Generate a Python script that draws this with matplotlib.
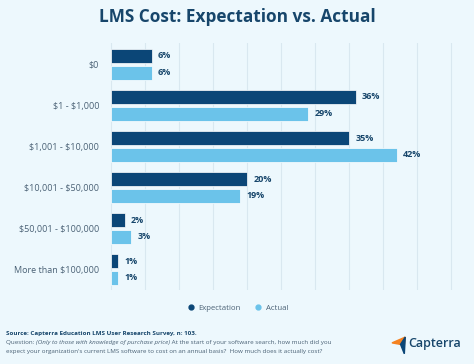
import matplotlib.pyplot as plt
from matplotlib.patches import Polygon
import numpy as np

categories = ["\\$0", "\\$1 - \\$1,000", "\\$1,001 - \\$10,000", "\\$10,001 - \\$50,000",
              "\\$50,001 - \\$100,000", "More than \\$100,000"]
expectation = [6, 36, 35, 20, 2, 1]
actual = [6, 29, 42, 19, 3, 1]

navy = "#0b4677"
light = "#6bc3ea"
bg = "#edf8fd"
text_dark = "#17466b"
text_grey = "#4a6175"

plt.rcParams['font.family'] = ['Open Sans', 'DejaVu Sans']

fig = plt.figure(figsize=(4.74, 3.64), dpi=100)
fig.patch.set_facecolor(bg)
# 6.8 px per percent, axes from -0.3 to 52
ax = fig.add_axes([109.0 / 474, 0.2033, 52.3 * 6.8 / 474, 0.6786])
ax.set_facecolor(bg)

y = np.arange(len(categories))
h = 0.34
off = 0.204
b1 = ax.barh(y - off, expectation, height=h, color=navy, edgecolor="white", linewidth=0.5)
b2 = ax.barh(y + off, actual, height=h, color=light, edgecolor="white", linewidth=0.5)

for bars, vals in ((b1, expectation), (b2, actual)):
    for bar, v in zip(bars, vals):
        ax.annotate(f"{v}%", (bar.get_width(), bar.get_y() + bar.get_height() / 2),
                    xytext=(4.5, 0), textcoords="offset points", va="center",
                    ha="left", fontsize=6.5, fontweight="bold", color=text_dark)

ax.set_xlim(-0.3, 52)
ax.set_ylim(5.5, -0.52)
ax.set_xticks(np.arange(0, 51, 5))
ax.set_xticklabels([])
ax.set_yticks(y)
ax.set_yticklabels(categories, fontsize=6.5, color=text_grey)
ax.tick_params(axis="y", length=0, pad=7)
ax.tick_params(axis="x", length=0)
ax.grid(axis="x", color="#d9e8f0", linewidth=0.8)
ax.set_axisbelow(True)
for s in ax.spines.values():
    s.set_visible(False)

fig.text(0.5, 0.953, "LMS Cost: Expectation vs. Actual", ha="center", va="center",
         fontsize=12.4, fontweight="bold", color=text_dark)

# legend
fig.legend([plt.Line2D([], [], marker="o", color=navy, ls="", markersize=3.5),
            plt.Line2D([], [], marker="o", color=light, ls="", markersize=3.5)],
           ["Expectation", "Actual"], loc="center", bbox_to_anchor=(0.497, 0.153),
           ncol=2, frameon=False, fontsize=5.6, handletextpad=0.0, columnspacing=1.2,
           labelcolor=text_grey)

# footer
fs = 4.5
fig.text(0.013, 0.083, "Source: Capterra Education LMS User Research Survey, n: 103.",
         fontsize=fs, fontweight="bold", color=text_dark, va="center")
t = fig.text(0.013, 0.058, "Question: ", fontsize=fs, color=text_grey, va="center")
t = plt.annotate("(Only to those with knowledge of purchase price)", xy=(1, 0.5),
                 xycoords=t, va="center", fontsize=fs, style="italic", color=text_grey)
plt.annotate(" At the start of your software search, how much did you", xy=(1, 0.5),
             xycoords=t, va="center", fontsize=fs, color=text_grey)
fig.text(0.013, 0.033, "expect your organization's current LMS software to cost on an annual "
         "basis?  How much does it actually cost?", fontsize=fs, color=text_grey, va="center")

# logo
fig.patches.append(Polygon([[0.827, 0.058], [0.855, 0.074], [0.853, 0.052]],
                           closed=True, transform=fig.transFigure, color="#f58220"))
fig.patches.append(Polygon([[0.845, 0.054], [0.855, 0.074], [0.853, 0.028]],
                           closed=True, transform=fig.transFigure, color="#0b4677"))
fig.text(0.861, 0.057, "Capterra", fontsize=9, fontweight="semibold", color=text_dark,
         va="center")

fig.savefig("out.png", dpi=100, facecolor=bg)
